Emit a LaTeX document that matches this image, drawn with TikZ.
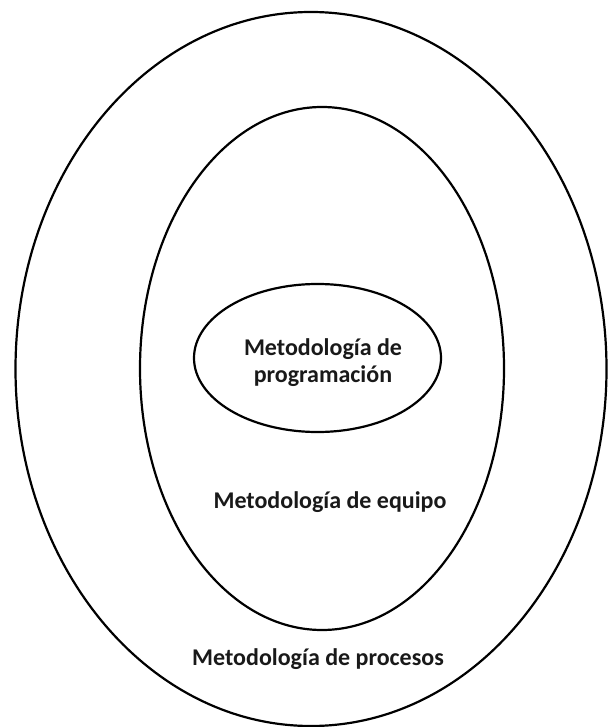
\documentclass[tikz,border=0pt]{standalone}
\usepackage{fontspec}
\setmainfont{Carlito}
\usetikzlibrary{positioning}

\tikzset{
  ring/.style={draw=black, line width=2.2pt},
  layer/.style={font=\fontsize{24}{27}\selectfont\bfseries, text=black!90, align=center, inner sep=0pt}
}

\begin{document}
\begin{tikzpicture}[x=1pt,y=-1pt]
\useasboundingbox (0,0) rectangle (608,727);
% Rings, outer to inner
\draw[ring] (311,369) ellipse (295.5 and 357);
\draw[ring] (322,368.5) ellipse (182 and 261.5);
\draw[ring] (317.5,358) ellipse (123.5 and 74);
% Labels
\node[layer] (programacion) at (323,363) {Metodología de\\programación};
\node[layer] (equipo) at (330,502) {Metodología de equipo};
\node[layer] (procesos) at (318,659) {Metodología de procesos};
\end{tikzpicture}
\end{document}
